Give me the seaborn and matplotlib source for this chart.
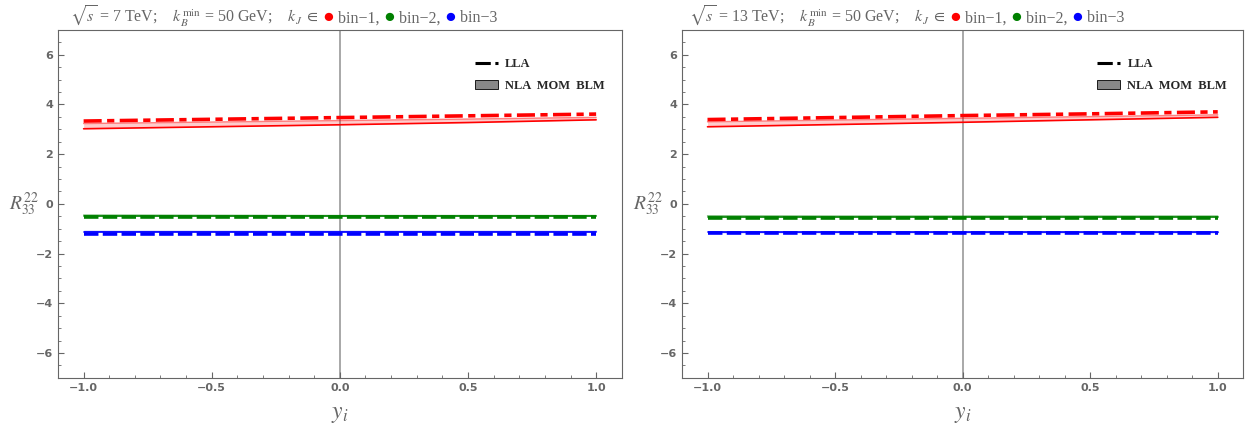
import numpy as np
import pandas as pd
import matplotlib
matplotlib.use("Agg")
import matplotlib.pyplot as plt
import seaborn as sns
from matplotlib.lines import Line2D
from matplotlib.patches import Patch
from matplotlib.offsetbox import TextArea, HPacker, AnchoredOffsetbox
from matplotlib.ticker import MultipleLocator

# ==============================================================
# Datos
# ==============================================================

y_i = [-1.0, -0.5, 0.0, 0.5, 1.0]

# sqrt(s) = 7 TeV
lla_7_bin1 = [3.33, 3.40, 3.47, 3.54, 3.61]
nla_7_bin1_lo = [3.02, 3.10, 3.18, 3.27, 3.38]
nla_7_bin1_hi = [3.23, 3.29, 3.35, 3.41, 3.48]
lla_7_bin2 = [-0.54, -0.54, -0.54, -0.54, -0.54]
nla_7_bin2_lo = [-0.50, -0.50, -0.50, -0.50, -0.50]
nla_7_bin2_hi = [-0.45, -0.46, -0.47, -0.47, -0.47]
lla_7_bin3 = [-1.20, -1.20, -1.20, -1.20, -1.20]
nla_7_bin3_lo = [-1.15, -1.15, -1.15, -1.15, -1.15]
nla_7_bin3_hi = [-1.11, -1.11, -1.11, -1.11, -1.11]

# sqrt(s) = 13 TeV
lla_13_bin1 = [3.39, 3.47, 3.55, 3.62, 3.70]
nla_13_bin1_lo = [3.10, 3.19, 3.28, 3.38, 3.48]
nla_13_bin1_hi = [3.30, 3.37, 3.44, 3.51, 3.58]
lla_13_bin2 = [-0.58, -0.58, -0.58, -0.58, -0.58]
nla_13_bin2_lo = [-0.53, -0.53, -0.53, -0.53, -0.53]
nla_13_bin2_hi = [-0.48, -0.49, -0.49, -0.49, -0.49]
lla_13_bin3 = [-1.19, -1.19, -1.19, -1.19, -1.19]
nla_13_bin3_lo = [-1.15, -1.15, -1.15, -1.15, -1.15]
nla_13_bin3_hi = [-1.12, -1.12, -1.12, -1.12, -1.12]

energias = ["7", "13"]
colores = ["#ff0000", "#008000", "#0000ff"]

paneles = [
    {"lla": [lla_7_bin1, lla_7_bin2, lla_7_bin3],
     "lo": [nla_7_bin1_lo, nla_7_bin2_lo, nla_7_bin3_lo],
     "hi": [nla_7_bin1_hi, nla_7_bin2_hi, nla_7_bin3_hi]},
    {"lla": [lla_13_bin1, lla_13_bin2, lla_13_bin3],
     "lo": [nla_13_bin1_lo, nla_13_bin2_lo, nla_13_bin3_lo],
     "hi": [nla_13_bin1_hi, nla_13_bin2_hi, nla_13_bin3_hi]},
]

# ==============================================================
# Estilo
# ==============================================================

sns.set_style("ticks")
plt.rcParams["mathtext.fontset"] = "stix"
gris = "#666666"

fig = plt.figure(figsize=(12.5, 4.26), dpi=100)
posiciones = [[0.0464, 0.113, 0.451, 0.817], [0.5456, 0.113, 0.449, 0.817]]

for k, (pos, energia, panel) in enumerate(zip(posiciones, energias, paneles)):
    ax = fig.add_axes(pos)

    for j, (c, lla, lo, hi) in enumerate(zip(colores, panel["lla"], panel["lo"], panel["hi"])):
        ax.fill_between(y_i, lo, hi, color=c, alpha=0.2, lw=0)
        sns.lineplot(x=y_i, y=hi, ax=ax, color=c, lw=1.0, alpha=0.5)
        sns.lineplot(x=y_i, y=lo, ax=ax, color=c, lw=1.2)
        sns.lineplot(x=y_i, y=lla, ax=ax, color=c, lw=2.6)
        if j == 0:
            ax.lines[-1].set_dashes((5, 1.5, 2, 1.5))
        else:
            ax.lines[-1].set_dashes((4, 1.2))

    ax.axvline(0, color="#999999", lw=1.2, zorder=0)
    ax.set_xlim(-1.1, 1.1)
    ax.set_ylim(-7, 7)
    ax.xaxis.set_major_locator(MultipleLocator(0.5))
    ax.xaxis.set_minor_locator(MultipleLocator(0.1))
    ax.yaxis.set_major_locator(MultipleLocator(2))
    ax.yaxis.set_minor_locator(MultipleLocator(0.5))
    ax.tick_params(which="major", direction="in", length=4, color=gris,
                   labelsize=8, labelcolor=gris)
    ax.tick_params(which="minor", direction="in", length=2, color=gris)
    for lab in ax.get_xticklabels() + ax.get_yticklabels():
        lab.set_fontweight("bold")
    for sp in ax.spines.values():
        sp.set_color(gris)
        sp.set_linewidth(0.8)

    ax.set_xlabel("$y_i$", fontsize=17, color=gris, labelpad=6)
    ax.set_ylabel("$R^{22}_{33}$", fontsize=14, color=gris, rotation=0,
                  labelpad=9, va="center")

    # Titulo con puntos de color
    piezas = [
        ("$\\sqrt{s}$ = " + energia + " TeV;    $k_B^{\\min}$ = 50 GeV;    $k_J$ $\\in$ ", gris, 11.5),
        ("\u25cf", colores[0], 14), (" bin\u22121, ", gris, 11.5),
        ("\u25cf", colores[1], 14), (" bin\u22122, ", gris, 11.5),
        ("\u25cf", colores[2], 14), (" bin\u22123", gris, 11.5),
    ]
    cajas = [TextArea(t, textprops=dict(color=c, fontsize=s, family="Liberation Serif"))
             for t, c, s in piezas]
    caja = HPacker(children=cajas, align="baseline", pad=0, sep=0)
    titulo = AnchoredOffsetbox(loc="lower center", child=caja, frameon=False,
                               bbox_to_anchor=(0.40, 0.988), bbox_transform=ax.transAxes,
                               borderpad=0)
    ax.add_artist(titulo)

    handles = [Line2D([], [], color="black", lw=2.2, dashes=(5, 1.5, 2, 1.5)),
               Patch(facecolor="#888888", edgecolor="black", lw=0.6)]
    ax.legend(handles, ["LLA", "NLA  MOM  BLM"], loc="upper left",
              bbox_to_anchor=(0.72, 0.95), frameon=False, handlelength=1.8,
              labelspacing=0.75, handletextpad=0.6,
              prop=dict(family="Liberation Serif", weight="bold", size=9))

fig.savefig("out.png", dpi=100)
